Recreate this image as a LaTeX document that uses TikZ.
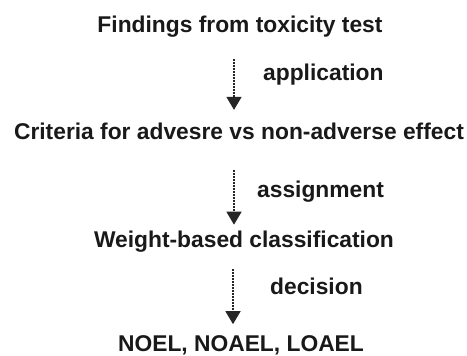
\documentclass[tikz,border=0pt]{standalone}
\usepackage{fontspec}
\setmainfont{Liberation Sans}
\usetikzlibrary{arrows.meta}
\usetikzlibrary{positioning}

\tikzset{
  step text/.style={anchor=base, inner sep=0pt, font=\fontsize{22.8}{27}\selectfont\bfseries, text=black!90},
  flow label/.style={anchor=base west, inner sep=0pt, font=\fontsize{22.8}{27}\selectfont\bfseries, text=black!90},
  flow/.style={black!85, line width=1.5pt, dash pattern=on 1.5pt off 1.5pt,
    -{Triangle[width=15pt,length=13pt]}}
}

\begin{document}
\begin{tikzpicture}[x=1pt,y=1pt]
\useasboundingbox (0,0) rectangle (467,356);

% the four stages
\node[step text] (find)   at (240,323) {Findings from toxicity test};
\node[step text] (crit)   at (239,216) {Criteria for advesre vs non-adverse effect};
\node[step text] (weight) at (244,108) {Weight-based classification};
\node[step text] (noel)   at (241,4)   {NOEL, NOAEL, LOAEL};

% labels beside the arrows
\node[flow label] (app)    at (263,275) {application};
\node[flow label] (assign) at (257,158) {assignment};
\node[flow label] (decide) at (270,61)  {decision};

% dotted arrows
\draw[flow] ([xshift=-6pt,yshift=-21pt]find.south) -- ([xshift=-5pt,yshift=13.4pt]crit.north);
\draw[flow] ([xshift=-5pt,yshift=-30pt]crit.south) -- ([xshift=-10pt,yshift=6.6pt]weight.north);
\draw[flow] ([xshift=-11pt,yshift=-16.3pt]weight.south) -- ([xshift=-8pt,yshift=11.7pt]noel.north);

\end{tikzpicture}
\end{document}
